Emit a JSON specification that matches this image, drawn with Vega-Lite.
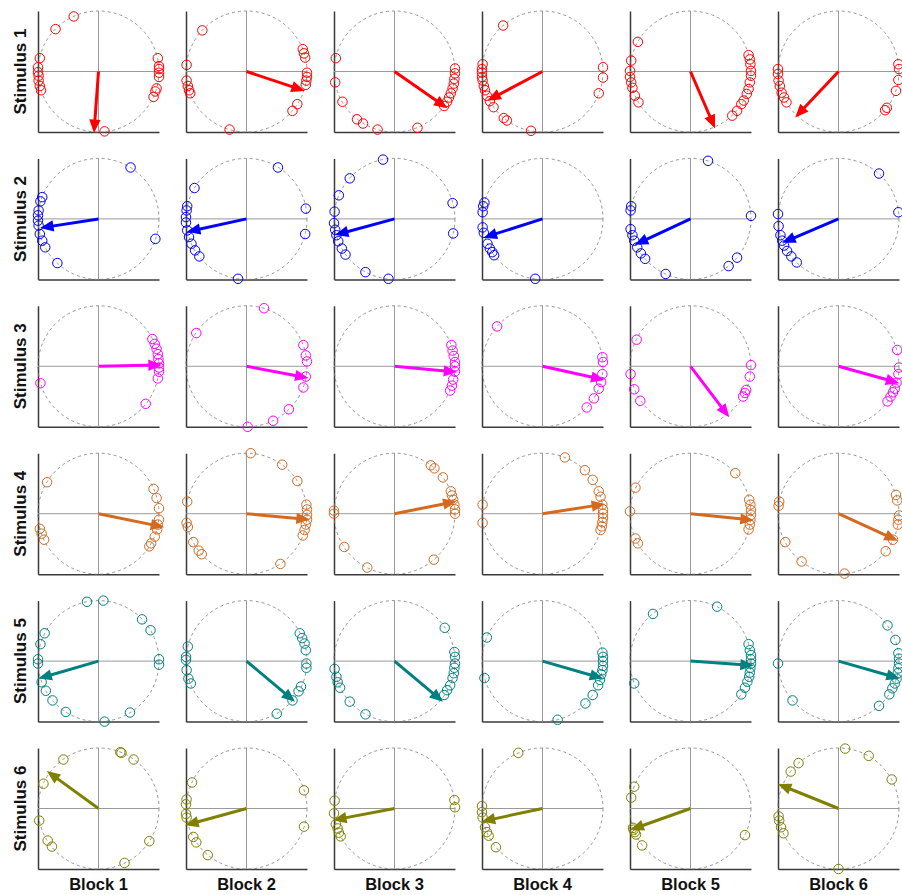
{
"$schema": "https://vega.github.io/schema/vega-lite/v6.json",
"padding": {"left": 11, "top": 9, "right": 0, "bottom": 0},
"background": "white",
"bounds": "flush",
"data": {"values": [
{"s":1,"b":1,"k":"o","x":-0.41,"y":0.91},{"s":1,"b":1,"k":"o","x":-0.71,"y":0.70},{"s":1,"b":1,"k":"o","x":-0.97,"y":0.22},{"s":1,"b":1,"k":"o","x":-1.0,"y":0.07},{"s":1,"b":1,"k":"o","x":-1.0,"y":-0.01},{"s":1,"b":1,"k":"o","x":-0.99,"y":-0.07},{"s":1,"b":1,"k":"o","x":-0.99,"y":-0.15},{"s":1,"b":1,"k":"o","x":-0.97,"y":-0.24},{"s":1,"b":1,"k":"o","x":-0.95,"y":-0.31},{"s":1,"b":1,"k":"o","x":0.98,"y":0.22},{"s":1,"b":1,"k":"o","x":1.0,"y":0.09},{"s":1,"b":1,"k":"o","x":1.0,"y":0.04},{"s":1,"b":1,"k":"o","x":1.0,"y":-0.02},{"s":1,"b":1,"k":"o","x":1.0,"y":-0.09},{"s":1,"b":1,"k":"o","x":0.96,"y":-0.28},{"s":1,"b":1,"k":"o","x":0.94,"y":-0.33},{"s":1,"b":1,"k":"o","x":0.91,"y":-0.42},{"s":1,"b":1,"k":"o","x":0.10,"y":-0.99},
{"s":1,"b":1,"k":"m","x":-0.07,"y":-0.95,"dir":-94},
{"s":1,"b":2,"k":"o","x":-0.73,"y":0.68},{"s":1,"b":2,"k":"o","x":-0.99,"y":0.11},{"s":1,"b":2,"k":"o","x":-0.99,"y":-0.15},{"s":1,"b":2,"k":"o","x":-0.97,"y":-0.24},{"s":1,"b":2,"k":"o","x":-0.95,"y":-0.31},{"s":1,"b":2,"k":"o","x":-0.93,"y":-0.36},{"s":1,"b":2,"k":"o","x":-0.28,"y":-0.96},{"s":1,"b":2,"k":"o","x":0.93,"y":0.37},{"s":1,"b":2,"k":"o","x":0.95,"y":0.30},{"s":1,"b":2,"k":"o","x":0.97,"y":0.23},{"s":1,"b":2,"k":"o","x":1.0,"y":-0.02},{"s":1,"b":2,"k":"o","x":1.0,"y":-0.09},{"s":1,"b":2,"k":"o","x":0.99,"y":-0.15},{"s":1,"b":2,"k":"o","x":0.98,"y":-0.22},{"s":1,"b":2,"k":"o","x":0.84,"y":-0.54},{"s":1,"b":2,"k":"o","x":0.76,"y":-0.65},
{"s":1,"b":2,"k":"m","x":0.90,"y":-0.30,"dir":-18.6},
{"s":1,"b":3,"k":"o","x":-0.97,"y":0.22},{"s":1,"b":3,"k":"o","x":-0.98,"y":-0.18},{"s":1,"b":3,"k":"o","x":-0.86,"y":-0.50},{"s":1,"b":3,"k":"o","x":-0.62,"y":-0.79},{"s":1,"b":3,"k":"o","x":-0.52,"y":-0.86},{"s":1,"b":3,"k":"o","x":-0.28,"y":-0.96},{"s":1,"b":3,"k":"o","x":0.38,"y":-0.93},{"s":1,"b":3,"k":"o","x":0.82,"y":-0.57},{"s":1,"b":3,"k":"o","x":1.0,"y":0.05},{"s":1,"b":3,"k":"o","x":1.0,"y":-0.03},{"s":1,"b":3,"k":"o","x":0.99,"y":-0.12},{"s":1,"b":3,"k":"o","x":0.98,"y":-0.2},{"s":1,"b":3,"k":"o","x":0.96,"y":-0.28},{"s":1,"b":3,"k":"o","x":0.93,"y":-0.36},{"s":1,"b":3,"k":"o","x":0.90,"y":-0.43},{"s":1,"b":3,"k":"o","x":0.87,"y":-0.50},
{"s":1,"b":3,"k":"m","x":0.82,"y":-0.57,"dir":-34.8},
{"s":1,"b":4,"k":"o","x":-0.65,"y":0.76},{"s":1,"b":4,"k":"o","x":-0.99,"y":0.12},{"s":1,"b":4,"k":"o","x":-1.0,"y":0.04},{"s":1,"b":4,"k":"o","x":-1.0,"y":-0.02},{"s":1,"b":4,"k":"o","x":-1.0,"y":-0.09},{"s":1,"b":4,"k":"o","x":-0.99,"y":-0.15},{"s":1,"b":4,"k":"o","x":-0.97,"y":-0.24},{"s":1,"b":4,"k":"o","x":-0.95,"y":-0.31},{"s":1,"b":4,"k":"o","x":-0.92,"y":-0.40},{"s":1,"b":4,"k":"o","x":-0.87,"y":-0.49},{"s":1,"b":4,"k":"o","x":-0.81,"y":-0.59},{"s":1,"b":4,"k":"o","x":-0.64,"y":-0.77},{"s":1,"b":4,"k":"o","x":-0.59,"y":-0.81},{"s":1,"b":4,"k":"o","x":-0.19,"y":-0.98},{"s":1,"b":4,"k":"o","x":1.0,"y":0.07},{"s":1,"b":4,"k":"o","x":1.0,"y":-0.10},{"s":1,"b":4,"k":"o","x":0.93,"y":-0.36},
{"s":1,"b":4,"k":"m","x":-0.85,"y":-0.45,"dir":-152},
{"s":1,"b":5,"k":"o","x":-0.87,"y":0.49},{"s":1,"b":5,"k":"o","x":-0.98,"y":0.18},{"s":1,"b":5,"k":"o","x":-1.0,"y":0.01},{"s":1,"b":5,"k":"o","x":-1.0,"y":-0.09},{"s":1,"b":5,"k":"o","x":-0.98,"y":-0.18},{"s":1,"b":5,"k":"o","x":-0.96,"y":-0.27},{"s":1,"b":5,"k":"o","x":-0.92,"y":-0.40},{"s":1,"b":5,"k":"o","x":-0.86,"y":-0.51},{"s":1,"b":5,"k":"o","x":0.96,"y":0.27},{"s":1,"b":5,"k":"o","x":0.98,"y":0.20},{"s":1,"b":5,"k":"o","x":0.99,"y":0.12},{"s":1,"b":5,"k":"o","x":1.0,"y":0.01},{"s":1,"b":5,"k":"o","x":1.0,"y":-0.07},{"s":1,"b":5,"k":"o","x":0.98,"y":-0.18},{"s":1,"b":5,"k":"o","x":0.96,"y":-0.29},{"s":1,"b":5,"k":"o","x":0.93,"y":-0.37},{"s":1,"b":5,"k":"o","x":0.88,"y":-0.48},{"s":1,"b":5,"k":"o","x":0.84,"y":-0.54},{"s":1,"b":5,"k":"o","x":0.77,"y":-0.65},{"s":1,"b":5,"k":"o","x":0.69,"y":-0.73},
{"s":1,"b":5,"k":"m","x":0.38,"y":-0.88,"dir":-66.5},
{"s":1,"b":6,"k":"o","x":-1.0,"y":0.04},{"s":1,"b":6,"k":"o","x":-1.0,"y":-0.04},{"s":1,"b":6,"k":"o","x":-0.99,"y":-0.15},{"s":1,"b":6,"k":"o","x":-0.97,"y":-0.24},{"s":1,"b":6,"k":"o","x":-0.94,"y":-0.35},{"s":1,"b":6,"k":"o","x":-0.90,"y":-0.43},{"s":1,"b":6,"k":"o","x":-0.86,"y":-0.51},{"s":1,"b":6,"k":"o","x":0.99,"y":0.12},{"s":1,"b":6,"k":"o","x":1.0,"y":0.04},{"s":1,"b":6,"k":"o","x":0.99,"y":-0.14},{"s":1,"b":6,"k":"o","x":0.95,"y":-0.32},{"s":1,"b":6,"k":"o","x":0.80,"y":-0.60},{"s":1,"b":6,"k":"o","x":0.77,"y":-0.64},
{"s":1,"b":6,"k":"m","x":-0.67,"y":-0.71,"dir":-133},
{"s":2,"b":1,"k":"o","x":0.53,"y":0.85},{"s":2,"b":1,"k":"o","x":-0.93,"y":0.36},{"s":2,"b":1,"k":"o","x":-0.96,"y":0.29},{"s":2,"b":1,"k":"o","x":-0.99,"y":0.14},{"s":2,"b":1,"k":"o","x":-1.0,"y":0.06},{"s":2,"b":1,"k":"o","x":-1.0,"y":-0.03},{"s":2,"b":1,"k":"o","x":-0.99,"y":-0.11},{"s":2,"b":1,"k":"o","x":-0.97,"y":-0.25},{"s":2,"b":1,"k":"o","x":-0.93,"y":-0.36},{"s":2,"b":1,"k":"o","x":-0.88,"y":-0.47},{"s":2,"b":1,"k":"o","x":-0.68,"y":-0.73},{"s":2,"b":1,"k":"o","x":0.94,"y":-0.33},
{"s":2,"b":1,"k":"m","x":-0.90,"y":-0.14,"dir":-171},
{"s":2,"b":2,"k":"o","x":0.52,"y":0.85},{"s":2,"b":2,"k":"o","x":-0.86,"y":0.51},{"s":2,"b":2,"k":"o","x":-0.98,"y":0.21},{"s":2,"b":2,"k":"o","x":-0.99,"y":0.14},{"s":2,"b":2,"k":"o","x":-1.0,"y":0.03},{"s":2,"b":2,"k":"o","x":-1.0,"y":-0.06},{"s":2,"b":2,"k":"o","x":-0.98,"y":-0.19},{"s":2,"b":2,"k":"o","x":-0.95,"y":-0.30},{"s":2,"b":2,"k":"o","x":-0.91,"y":-0.41},{"s":2,"b":2,"k":"o","x":-0.85,"y":-0.52},{"s":2,"b":2,"k":"o","x":-0.78,"y":-0.62},{"s":2,"b":2,"k":"o","x":-0.14,"y":-0.99},{"s":2,"b":2,"k":"o","x":0.98,"y":0.17},{"s":2,"b":2,"k":"o","x":0.97,"y":-0.25},
{"s":2,"b":2,"k":"m","x":-0.92,"y":-0.20,"dir":-168},
{"s":2,"b":3,"k":"o","x":-0.19,"y":0.98},{"s":2,"b":3,"k":"o","x":-0.74,"y":0.67},{"s":2,"b":3,"k":"o","x":-0.92,"y":0.39},{"s":2,"b":3,"k":"o","x":-0.99,"y":0.12},{"s":2,"b":3,"k":"o","x":-1.0,"y":-0.07},{"s":2,"b":3,"k":"o","x":-0.98,"y":-0.18},{"s":2,"b":3,"k":"o","x":-0.96,"y":-0.27},{"s":2,"b":3,"k":"o","x":-0.93,"y":-0.37},{"s":2,"b":3,"k":"o","x":-0.87,"y":-0.49},{"s":2,"b":3,"k":"o","x":-0.81,"y":-0.59},{"s":2,"b":3,"k":"o","x":-0.48,"y":-0.88},{"s":2,"b":3,"k":"o","x":-0.10,"y":-0.99},{"s":2,"b":3,"k":"o","x":0.96,"y":0.26},{"s":2,"b":3,"k":"o","x":0.97,"y":-0.24},
{"s":2,"b":3,"k":"m","x":-0.92,"y":-0.25,"dir":-165},
{"s":2,"b":4,"k":"o","x":-0.96,"y":0.27},{"s":2,"b":4,"k":"o","x":-0.98,"y":0.21},{"s":2,"b":4,"k":"o","x":-0.99,"y":0.11},{"s":2,"b":4,"k":"o","x":-0.99,"y":-0.14},{"s":2,"b":4,"k":"o","x":-0.97,"y":-0.23},{"s":2,"b":4,"k":"o","x":-0.91,"y":-0.41},{"s":2,"b":4,"k":"o","x":-0.87,"y":-0.49},{"s":2,"b":4,"k":"o","x":-0.83,"y":-0.55},{"s":2,"b":4,"k":"o","x":-0.80,"y":-0.60},{"s":2,"b":4,"k":"o","x":-0.12,"y":-0.99},
{"s":2,"b":4,"k":"m","x":-0.91,"y":-0.29,"dir":-162.5},
{"s":2,"b":5,"k":"o","x":0.29,"y":0.96},{"s":2,"b":5,"k":"o","x":-0.98,"y":0.21},{"s":2,"b":5,"k":"o","x":-0.99,"y":0.14},{"s":2,"b":5,"k":"o","x":-0.99,"y":-0.17},{"s":2,"b":5,"k":"o","x":-0.96,"y":-0.27},{"s":2,"b":5,"k":"o","x":-0.93,"y":-0.36},{"s":2,"b":5,"k":"o","x":-0.88,"y":-0.47},{"s":2,"b":5,"k":"o","x":-0.82,"y":-0.57},{"s":2,"b":5,"k":"o","x":-0.75,"y":-0.66},{"s":2,"b":5,"k":"o","x":-0.41,"y":-0.91},{"s":2,"b":5,"k":"o","x":1.0,"y":0.05},{"s":2,"b":5,"k":"o","x":0.77,"y":-0.64},{"s":2,"b":5,"k":"o","x":0.63,"y":-0.78},
{"s":2,"b":5,"k":"m","x":-0.86,"y":-0.40,"dir":-155},
{"s":2,"b":6,"k":"o","x":0.67,"y":0.75},{"s":2,"b":6,"k":"o","x":-1.0,"y":0.08},{"s":2,"b":6,"k":"o","x":-0.99,"y":-0.12},{"s":2,"b":6,"k":"o","x":-0.96,"y":-0.27},{"s":2,"b":6,"k":"o","x":-0.93,"y":-0.36},{"s":2,"b":6,"k":"o","x":-0.90,"y":-0.44},{"s":2,"b":6,"k":"o","x":-0.85,"y":-0.53},{"s":2,"b":6,"k":"o","x":-0.78,"y":-0.62},{"s":2,"b":6,"k":"o","x":-0.69,"y":-0.72},{"s":2,"b":6,"k":"o","x":0.99,"y":0.11},
{"s":2,"b":6,"k":"m","x":-0.87,"y":-0.37,"dir":-157},
{"s":3,"b":1,"k":"o","x":0.89,"y":0.45},{"s":3,"b":1,"k":"o","x":0.93,"y":0.37},{"s":3,"b":1,"k":"o","x":0.96,"y":0.29},{"s":3,"b":1,"k":"o","x":0.98,"y":0.20},{"s":3,"b":1,"k":"o","x":0.99,"y":0.12},{"s":3,"b":1,"k":"o","x":1.0,"y":0.05},{"s":3,"b":1,"k":"o","x":1.0,"y":-0.02},{"s":3,"b":1,"k":"o","x":1.0,"y":-0.09},{"s":3,"b":1,"k":"o","x":0.98,"y":-0.20},{"s":3,"b":1,"k":"o","x":-0.96,"y":-0.28},{"s":3,"b":1,"k":"o","x":0.78,"y":-0.62},
{"s":3,"b":1,"k":"m","x":0.98,"y":0.02,"dir":1},
{"s":3,"b":2,"k":"o","x":0.29,"y":0.96},{"s":3,"b":2,"k":"o","x":-0.83,"y":0.55},{"s":3,"b":2,"k":"o","x":0.94,"y":0.35},{"s":3,"b":2,"k":"o","x":0.98,"y":0.18},{"s":3,"b":2,"k":"o","x":1.0,"y":0.08},{"s":3,"b":2,"k":"o","x":0.98,"y":-0.17},{"s":3,"b":2,"k":"o","x":0.94,"y":-0.35},{"s":3,"b":2,"k":"o","x":0.70,"y":-0.71},{"s":3,"b":2,"k":"o","x":0.44,"y":-0.90},{"s":3,"b":2,"k":"o","x":0.02,"y":-1.0},
{"s":3,"b":2,"k":"m","x":0.96,"y":-0.18,"dir":-10.4},
{"s":3,"b":3,"k":"o","x":0.94,"y":0.35},{"s":3,"b":3,"k":"o","x":0.96,"y":0.26},{"s":3,"b":3,"k":"o","x":0.98,"y":0.17},{"s":3,"b":3,"k":"o","x":1.0,"y":0.07},{"s":3,"b":3,"k":"o","x":1.0,"y":0.0},{"s":3,"b":3,"k":"o","x":1.0,"y":-0.09},{"s":3,"b":3,"k":"o","x":0.97,"y":-0.22},{"s":3,"b":3,"k":"o","x":0.95,"y":-0.32},{"s":3,"b":3,"k":"o","x":0.92,"y":-0.40},
{"s":3,"b":3,"k":"m","x":0.97,"y":-0.09,"dir":-5},
{"s":3,"b":4,"k":"o","x":-0.75,"y":0.66},{"s":3,"b":4,"k":"o","x":0.99,"y":0.15},{"s":3,"b":4,"k":"o","x":1.0,"y":0.07},{"s":3,"b":4,"k":"o","x":0.99,"y":-0.13},{"s":3,"b":4,"k":"o","x":0.97,"y":-0.26},{"s":3,"b":4,"k":"o","x":0.93,"y":-0.37},{"s":3,"b":4,"k":"o","x":0.85,"y":-0.53},{"s":3,"b":4,"k":"o","x":0.73,"y":-0.68},
{"s":3,"b":4,"k":"m","x":0.96,"y":-0.21,"dir":-12.7},
{"s":3,"b":5,"k":"o","x":-0.89,"y":0.44},{"s":3,"b":5,"k":"o","x":-0.99,"y":-0.13},{"s":3,"b":5,"k":"o","x":-0.93,"y":-0.38},{"s":3,"b":5,"k":"o","x":-0.83,"y":-0.57},{"s":3,"b":5,"k":"o","x":1.0,"y":0.02},{"s":3,"b":5,"k":"o","x":0.98,"y":-0.17},{"s":3,"b":5,"k":"o","x":0.92,"y":-0.39},{"s":3,"b":5,"k":"o","x":0.90,"y":-0.44},{"s":3,"b":5,"k":"o","x":0.87,"y":-0.50},
{"s":3,"b":5,"k":"m","x":0.60,"y":-0.79,"dir":-52.6},
{"s":3,"b":6,"k":"o","x":0.97,"y":0.27},{"s":3,"b":6,"k":"o","x":1.0,"y":-0.02},{"s":3,"b":6,"k":"o","x":0.99,"y":-0.13},{"s":3,"b":6,"k":"o","x":0.96,"y":-0.27},{"s":3,"b":6,"k":"o","x":0.93,"y":-0.37},{"s":3,"b":6,"k":"o","x":0.90,"y":-0.43},{"s":3,"b":6,"k":"o","x":0.86,"y":-0.50},{"s":3,"b":6,"k":"o","x":0.81,"y":-0.58},
{"s":3,"b":6,"k":"m","x":0.94,"y":-0.26,"dir":-15.7},
{"s":4,"b":1,"k":"o","x":-0.85,"y":0.52},{"s":4,"b":1,"k":"o","x":0.91,"y":0.41},{"s":4,"b":1,"k":"o","x":0.96,"y":0.26},{"s":4,"b":1,"k":"o","x":1.0,"y":0.09},{"s":4,"b":1,"k":"o","x":1.0,"y":-0.10},{"s":4,"b":1,"k":"o","x":0.98,"y":-0.18},{"s":4,"b":1,"k":"o","x":0.97,"y":-0.26},{"s":4,"b":1,"k":"o","x":0.93,"y":-0.38},{"s":4,"b":1,"k":"o","x":0.87,"y":-0.49},{"s":4,"b":1,"k":"o","x":0.84,"y":-0.54},{"s":4,"b":1,"k":"o","x":-0.97,"y":-0.25},{"s":4,"b":1,"k":"o","x":-0.94,"y":-0.33},{"s":4,"b":1,"k":"o","x":-0.90,"y":-0.43},
{"s":4,"b":1,"k":"m","x":1.02,"y":-0.21,"dir":-11.9},
{"s":4,"b":2,"k":"o","x":0.07,"y":1.0},{"s":4,"b":2,"k":"o","x":0.59,"y":0.81},{"s":4,"b":2,"k":"o","x":0.84,"y":0.54},{"s":4,"b":2,"k":"o","x":0.99,"y":0.15},{"s":4,"b":2,"k":"o","x":1.0,"y":0.07},{"s":4,"b":2,"k":"o","x":1.0,"y":-0.02},{"s":4,"b":2,"k":"o","x":1.0,"y":-0.10},{"s":4,"b":2,"k":"o","x":0.98,"y":-0.18},{"s":4,"b":2,"k":"o","x":0.96,"y":-0.27},{"s":4,"b":2,"k":"o","x":0.93,"y":-0.36},{"s":4,"b":2,"k":"o","x":-0.98,"y":0.20},{"s":4,"b":2,"k":"o","x":-0.99,"y":-0.15},{"s":4,"b":2,"k":"o","x":-0.97,"y":-0.22},{"s":4,"b":2,"k":"o","x":-0.88,"y":-0.47},{"s":4,"b":2,"k":"o","x":-0.79,"y":-0.61},{"s":4,"b":2,"k":"o","x":-0.74,"y":-0.67},{"s":4,"b":2,"k":"o","x":0.56,"y":-0.83},
{"s":4,"b":2,"k":"m","x":0.98,"y":-0.09,"dir":-5},
{"s":4,"b":3,"k":"o","x":0.60,"y":0.80},{"s":4,"b":3,"k":"o","x":0.66,"y":0.75},{"s":4,"b":3,"k":"o","x":0.80,"y":0.60},{"s":4,"b":3,"k":"o","x":0.93,"y":0.37},{"s":4,"b":3,"k":"o","x":0.95,"y":0.30},{"s":4,"b":3,"k":"o","x":0.97,"y":0.23},{"s":4,"b":3,"k":"o","x":0.99,"y":0.15},{"s":4,"b":3,"k":"o","x":1.0,"y":0.07},{"s":4,"b":3,"k":"o","x":1.0,"y":0.0},{"s":4,"b":3,"k":"o","x":-1.0,"y":0.05},{"s":4,"b":3,"k":"o","x":-1.0,"y":0.0},{"s":4,"b":3,"k":"o","x":-0.83,"y":-0.55},{"s":4,"b":3,"k":"o","x":-0.45,"y":-0.89},{"s":4,"b":3,"k":"o","x":0.65,"y":-0.76},
{"s":4,"b":3,"k":"m","x":0.96,"y":0.19,"dir":11},
{"s":4,"b":4,"k":"o","x":0.37,"y":0.93},{"s":4,"b":4,"k":"o","x":0.70,"y":0.72},{"s":4,"b":4,"k":"o","x":0.83,"y":0.56},{"s":4,"b":4,"k":"o","x":0.93,"y":0.37},{"s":4,"b":4,"k":"o","x":0.96,"y":0.28},{"s":4,"b":4,"k":"o","x":0.99,"y":0.15},{"s":4,"b":4,"k":"o","x":1.0,"y":0.07},{"s":4,"b":4,"k":"o","x":1.0,"y":0.0},{"s":4,"b":4,"k":"o","x":1.0,"y":-0.07},{"s":4,"b":4,"k":"o","x":0.99,"y":-0.14},{"s":4,"b":4,"k":"o","x":0.98,"y":-0.21},{"s":4,"b":4,"k":"o","x":0.96,"y":-0.27},{"s":4,"b":4,"k":"o","x":-0.99,"y":0.15},{"s":4,"b":4,"k":"o","x":-0.99,"y":-0.15},
{"s":4,"b":4,"k":"m","x":0.97,"y":0.15,"dir":8.8},
{"s":4,"b":5,"k":"o","x":0.74,"y":0.67},{"s":4,"b":5,"k":"o","x":-0.91,"y":0.43},{"s":4,"b":5,"k":"o","x":-1.0,"y":0.04},{"s":4,"b":5,"k":"o","x":-0.91,"y":-0.41},{"s":4,"b":5,"k":"o","x":-0.87,"y":-0.49},{"s":4,"b":5,"k":"o","x":0.97,"y":0.23},{"s":4,"b":5,"k":"o","x":0.99,"y":0.15},{"s":4,"b":5,"k":"o","x":1.0,"y":0.06},{"s":4,"b":5,"k":"o","x":1.0,"y":-0.02},{"s":4,"b":5,"k":"o","x":0.99,"y":-0.10},{"s":4,"b":5,"k":"o","x":0.98,"y":-0.18},{"s":4,"b":5,"k":"o","x":0.96,"y":-0.26},
{"s":4,"b":5,"k":"m","x":0.98,"y":-0.10,"dir":-5.8},
{"s":4,"b":6,"k":"o","x":-0.98,"y":0.20},{"s":4,"b":6,"k":"o","x":-0.99,"y":0.13},{"s":4,"b":6,"k":"o","x":-0.88,"y":-0.47},{"s":4,"b":6,"k":"o","x":-0.61,"y":-0.79},{"s":4,"b":6,"k":"o","x":0.10,"y":-0.99},{"s":4,"b":6,"k":"o","x":0.95,"y":0.31},{"s":4,"b":6,"k":"o","x":0.97,"y":0.22},{"s":4,"b":6,"k":"o","x":1.0,"y":-0.03},{"s":4,"b":6,"k":"o","x":0.99,"y":-0.10},{"s":4,"b":6,"k":"o","x":0.98,"y":-0.18},{"s":4,"b":6,"k":"o","x":0.90,"y":-0.43},{"s":4,"b":6,"k":"o","x":0.78,"y":-0.62},
{"s":4,"b":6,"k":"m","x":0.92,"y":-0.42,"dir":-24.5},
{"s":5,"b":1,"k":"o","x":-0.19,"y":0.98},{"s":5,"b":1,"k":"o","x":0.08,"y":1.0},{"s":5,"b":1,"k":"o","x":0.72,"y":0.69},{"s":5,"b":1,"k":"o","x":0.86,"y":0.51},{"s":5,"b":1,"k":"o","x":1.0,"y":0.03},{"s":5,"b":1,"k":"o","x":1.0,"y":-0.06},{"s":5,"b":1,"k":"o","x":-0.89,"y":0.46},{"s":5,"b":1,"k":"o","x":-0.96,"y":0.28},{"s":5,"b":1,"k":"o","x":-1.0,"y":0.03},{"s":5,"b":1,"k":"o","x":-1.0,"y":-0.04},{"s":5,"b":1,"k":"o","x":-0.94,"y":-0.35},{"s":5,"b":1,"k":"o","x":-0.87,"y":-0.49},{"s":5,"b":1,"k":"o","x":-0.76,"y":-0.65},{"s":5,"b":1,"k":"o","x":-0.54,"y":-0.84},{"s":5,"b":1,"k":"o","x":0.10,"y":-1.0},{"s":5,"b":1,"k":"o","x":0.52,"y":-0.85},
{"s":5,"b":1,"k":"m","x":-0.93,"y":-0.27,"dir":-164},
{"s":5,"b":2,"k":"o","x":-0.97,"y":0.24},{"s":5,"b":2,"k":"o","x":-1.0,"y":0.07},{"s":5,"b":2,"k":"o","x":-1.0,"y":0.02},{"s":5,"b":2,"k":"o","x":-0.99,"y":-0.15},{"s":5,"b":2,"k":"o","x":-0.96,"y":-0.29},{"s":5,"b":2,"k":"o","x":-0.92,"y":-0.37},{"s":5,"b":2,"k":"o","x":0.88,"y":0.46},{"s":5,"b":2,"k":"o","x":0.92,"y":0.38},{"s":5,"b":2,"k":"o","x":0.96,"y":0.29},{"s":5,"b":2,"k":"o","x":0.98,"y":0.18},{"s":5,"b":2,"k":"o","x":0.99,"y":-0.04},{"s":5,"b":2,"k":"o","x":0.99,"y":-0.11},{"s":5,"b":2,"k":"o","x":0.90,"y":-0.42},{"s":5,"b":2,"k":"o","x":0.86,"y":-0.50},{"s":5,"b":2,"k":"o","x":0.76,"y":-0.65},{"s":5,"b":2,"k":"o","x":0.50,"y":-0.87},
{"s":5,"b":2,"k":"m","x":0.75,"y":-0.63,"dir":-40},
{"s":5,"b":3,"k":"o","x":0.83,"y":0.55},{"s":5,"b":3,"k":"o","x":0.99,"y":0.15},{"s":5,"b":3,"k":"o","x":1.0,"y":0.07},{"s":5,"b":3,"k":"o","x":1.0,"y":-0.04},{"s":5,"b":3,"k":"o","x":0.99,"y":-0.11},{"s":5,"b":3,"k":"o","x":0.98,"y":-0.20},{"s":5,"b":3,"k":"o","x":0.96,"y":-0.28},{"s":5,"b":3,"k":"o","x":0.92,"y":-0.40},{"s":5,"b":3,"k":"o","x":0.87,"y":-0.48},{"s":5,"b":3,"k":"o","x":0.82,"y":-0.56},{"s":5,"b":3,"k":"o","x":-0.99,"y":-0.13},{"s":5,"b":3,"k":"o","x":-0.96,"y":-0.26},{"s":5,"b":3,"k":"o","x":-0.94,"y":-0.35},{"s":5,"b":3,"k":"o","x":-0.90,"y":-0.44},{"s":5,"b":3,"k":"o","x":-0.74,"y":-0.67},{"s":5,"b":3,"k":"o","x":-0.48,"y":-0.88},
{"s":5,"b":3,"k":"m","x":0.75,"y":-0.63,"dir":-40},
{"s":5,"b":4,"k":"o","x":-0.92,"y":0.39},{"s":5,"b":4,"k":"o","x":-0.96,"y":-0.28},{"s":5,"b":4,"k":"o","x":0.25,"y":-0.97},{"s":5,"b":4,"k":"o","x":0.99,"y":0.14},{"s":5,"b":4,"k":"o","x":1.0,"y":0.07},{"s":5,"b":4,"k":"o","x":1.0,"y":0.0},{"s":5,"b":4,"k":"o","x":1.0,"y":-0.08},{"s":5,"b":4,"k":"o","x":0.99,"y":-0.15},{"s":5,"b":4,"k":"o","x":0.97,"y":-0.22},{"s":5,"b":4,"k":"o","x":0.95,"y":-0.31},{"s":5,"b":4,"k":"o","x":0.92,"y":-0.40},{"s":5,"b":4,"k":"o","x":0.83,"y":-0.56},{"s":5,"b":4,"k":"o","x":0.71,"y":-0.70},
{"s":5,"b":4,"k":"m","x":0.94,"y":-0.27,"dir":-16},
{"s":5,"b":5,"k":"o","x":-0.62,"y":0.78},{"s":5,"b":5,"k":"o","x":0.44,"y":0.90},{"s":5,"b":5,"k":"o","x":0.96,"y":0.28},{"s":5,"b":5,"k":"o","x":0.98,"y":0.18},{"s":5,"b":5,"k":"o","x":1.0,"y":0.10},{"s":5,"b":5,"k":"o","x":1.0,"y":0.03},{"s":5,"b":5,"k":"o","x":1.0,"y":-0.04},{"s":5,"b":5,"k":"o","x":0.99,"y":-0.11},{"s":5,"b":5,"k":"o","x":0.98,"y":-0.19},{"s":5,"b":5,"k":"o","x":0.97,"y":-0.26},{"s":5,"b":5,"k":"o","x":0.94,"y":-0.34},{"s":5,"b":5,"k":"o","x":0.90,"y":-0.44},{"s":5,"b":5,"k":"o","x":0.84,"y":-0.55},{"s":5,"b":5,"k":"o","x":-0.93,"y":-0.37},
{"s":5,"b":5,"k":"m","x":0.98,"y":-0.07,"dir":-4},
{"s":5,"b":6,"k":"o","x":0.81,"y":0.59},{"s":5,"b":6,"k":"o","x":0.94,"y":0.35},{"s":5,"b":6,"k":"o","x":0.99,"y":0.13},{"s":5,"b":6,"k":"o","x":1.0,"y":0.04},{"s":5,"b":6,"k":"o","x":1.0,"y":-0.04},{"s":5,"b":6,"k":"o","x":0.99,"y":-0.12},{"s":5,"b":6,"k":"o","x":0.98,"y":-0.20},{"s":5,"b":6,"k":"o","x":0.96,"y":-0.29},{"s":5,"b":6,"k":"o","x":0.93,"y":-0.37},{"s":5,"b":6,"k":"o","x":0.89,"y":-0.45},{"s":5,"b":6,"k":"o","x":0.84,"y":-0.55},{"s":5,"b":6,"k":"o","x":0.67,"y":-0.74},{"s":5,"b":6,"k":"o","x":-1.0,"y":-0.04},{"s":5,"b":6,"k":"o","x":-0.76,"y":-0.65},
{"s":5,"b":6,"k":"m","x":0.95,"y":-0.27,"dir":-15.6},
{"s":6,"b":1,"k":"o","x":-0.58,"y":0.81},{"s":6,"b":1,"k":"o","x":-0.91,"y":0.41},{"s":6,"b":1,"k":"o","x":0.36,"y":0.93},{"s":6,"b":1,"k":"o","x":0.38,"y":0.92},{"s":6,"b":1,"k":"o","x":0.58,"y":0.81},{"s":6,"b":1,"k":"o","x":-0.98,"y":-0.20},{"s":6,"b":1,"k":"o","x":-0.84,"y":-0.53},{"s":6,"b":1,"k":"o","x":-0.77,"y":-0.63},{"s":6,"b":1,"k":"o","x":0.84,"y":-0.54},{"s":6,"b":1,"k":"o","x":0.43,"y":-0.90},
{"s":6,"b":1,"k":"m","x":-0.80,"y":0.58,"dir":144},
{"s":6,"b":2,"k":"o","x":-0.90,"y":0.43},{"s":6,"b":2,"k":"o","x":-0.99,"y":0.15},{"s":6,"b":2,"k":"o","x":-1.0,"y":0.07},{"s":6,"b":2,"k":"o","x":-1.0,"y":-0.09},{"s":6,"b":2,"k":"o","x":-0.99,"y":-0.15},{"s":6,"b":2,"k":"o","x":-0.88,"y":-0.47},{"s":6,"b":2,"k":"o","x":-0.83,"y":-0.56},{"s":6,"b":2,"k":"o","x":-0.64,"y":-0.77},{"s":6,"b":2,"k":"o","x":0.95,"y":0.30},{"s":6,"b":2,"k":"o","x":0.95,"y":-0.30},
{"s":6,"b":2,"k":"m","x":-0.95,"y":-0.26,"dir":-165},
{"s":6,"b":3,"k":"o","x":-0.99,"y":0.13},{"s":6,"b":3,"k":"o","x":-1.0,"y":-0.08},{"s":6,"b":3,"k":"o","x":-0.97,"y":-0.26},{"s":6,"b":3,"k":"o","x":-0.94,"y":-0.33},{"s":6,"b":3,"k":"o","x":-0.92,"y":-0.40},{"s":6,"b":3,"k":"o","x":-0.89,"y":-0.46},{"s":6,"b":3,"k":"o","x":0.99,"y":0.14},{"s":6,"b":3,"k":"o","x":1.0,"y":0.02},
{"s":6,"b":3,"k":"m","x":-0.95,"y":-0.18,"dir":-169},
{"s":6,"b":4,"k":"o","x":-0.40,"y":0.92},{"s":6,"b":4,"k":"o","x":-1.0,"y":0.04},{"s":6,"b":4,"k":"o","x":-1.0,"y":-0.06},{"s":6,"b":4,"k":"o","x":-0.99,"y":-0.15},{"s":6,"b":4,"k":"o","x":-0.95,"y":-0.31},{"s":6,"b":4,"k":"o","x":-0.92,"y":-0.39},{"s":6,"b":4,"k":"o","x":-0.89,"y":-0.45},{"s":6,"b":4,"k":"o","x":-0.77,"y":-0.64},
{"s":6,"b":4,"k":"m","x":-0.94,"y":-0.20,"dir":-168},
{"s":6,"b":5,"k":"o","x":-0.93,"y":0.36},{"s":6,"b":5,"k":"o","x":-0.98,"y":0.18},{"s":6,"b":5,"k":"o","x":-0.95,"y":-0.32},{"s":6,"b":5,"k":"o","x":-0.94,"y":-0.35},{"s":6,"b":5,"k":"o","x":-0.92,"y":-0.39},{"s":6,"b":5,"k":"o","x":-0.90,"y":-0.43},{"s":6,"b":5,"k":"o","x":-0.80,"y":-0.61},{"s":6,"b":5,"k":"o","x":0.90,"y":-0.44},
{"s":6,"b":5,"k":"m","x":-0.93,"y":-0.33,"dir":-160},
{"s":6,"b":6,"k":"o","x":0.11,"y":0.99},{"s":6,"b":6,"k":"o","x":0.50,"y":0.87},{"s":6,"b":6,"k":"o","x":0.88,"y":0.48},{"s":6,"b":6,"k":"o","x":-0.66,"y":0.75},{"s":6,"b":6,"k":"o","x":-0.79,"y":0.61},{"s":6,"b":6,"k":"o","x":-0.99,"y":-0.13},{"s":6,"b":6,"k":"o","x":-0.98,"y":-0.20},{"s":6,"b":6,"k":"o","x":-0.95,"y":-0.31},{"s":6,"b":6,"k":"o","x":-0.91,"y":-0.41},{"s":6,"b":6,"k":"o","x":0.0,"y":-1.0},
{"s":6,"b":6,"k":"m","x":-0.94,"y":0.38,"dir":158}
]},
"facet": {
  "row": {"field": "s", "type": "ordinal", "title": null,
    "header": {"labelExpr": "'Stimulus ' + datum.value", "labelOrient": "left", "labelAngle": -90, "labelFontSize": 17, "labelFontWeight": "bold", "labelFont": "Liberation Sans", "labelColor": "#111111", "labelPadding": 0}},
  "column": {"field": "b", "type": "ordinal", "title": null,
    "header": {"labelExpr": "'Block ' + datum.value", "labelOrient": "bottom", "labelFontSize": 16.5, "labelFontWeight": "bold", "labelFont": "Liberation Sans", "labelColor": "#111111", "labelPadding": 8}}
},
"spacing": {"row": 26.4, "column": 27},
"resolve": {"axis": {"x": "independent", "y": "independent"}},
"spec": {
  "width": 121,
  "height": 121,
  "layer": [
    {"transform": [{"filter": "datum.k == 'm'"}],
     "mark": {"type": "rule", "color": "#9a9a9a", "strokeWidth": 1},
     "encoding": {"x": {"datum": 0, "type": "quantitative", "title": null, "scale": {"domain": [-1, 1], "nice": false, "zero": false}}}},
    {"transform": [{"filter": "datum.k == 'm'"}],
     "mark": {"type": "rule", "color": "#9a9a9a", "strokeWidth": 1},
     "encoding": {"y": {"datum": 0, "type": "quantitative", "title": null, "scale": {"domain": [-1, 1], "nice": false, "zero": false}}}},
    {"transform": [{"filter": "datum.k == 'm'"}],
     "mark": {"type": "point", "shape": "circle", "filled": false, "size": 14641, "stroke": "#7a7a7a", "strokeWidth": 0.8, "strokeDash": [3, 3], "opacity": 1},
     "encoding": {"x": {"datum": 0, "type": "quantitative", "title": null}, "y": {"datum": 0, "type": "quantitative", "title": null}}},
    {"transform": [{"filter": "datum.k == 'o'"}],
     "mark": {"type": "point", "shape": "circle", "filled": false, "size": 90, "strokeWidth": 1, "opacity": 1},
     "encoding": {
       "x": {"field": "x", "type": "quantitative", "title": null},
       "y": {"field": "y", "type": "quantitative", "title": null},
       "color": {"field": "s", "type": "nominal", "legend": null, "scale": {"domain": [1, 2, 3, 4, 5, 6], "range": ["#ff0000", "#0000ff", "#ff00ff", "#d5691f", "#008080", "#808000"]}}}},
    {"transform": [{"filter": "datum.k == 'm'"}],
     "mark": {"type": "rule", "strokeWidth": 3, "strokeCap": "butt"},
     "encoding": {
       "x": {"field": "x", "type": "quantitative", "title": null},
       "y": {"field": "y", "type": "quantitative", "title": null},
       "x2": {"datum": 0},
       "y2": {"datum": 0},
       "color": {"field": "s", "type": "nominal", "legend": null}}},
    {"transform": [{"filter": "datum.k == 'm'"}],
     "mark": {"type": "point", "shape": "M0,-0.3L0.42,0.7L-0.42,0.7Z", "filled": true, "size": 729, "opacity": 1, "strokeWidth": 0},
     "encoding": {
       "x": {"field": "x", "type": "quantitative", "title": null},
       "y": {"field": "y", "type": "quantitative", "title": null},
       "angle": {"field": "dir", "type": "quantitative", "legend": null, "scale": {"domain": [-180, 180], "range": [270, -90]}},
       "color": {"field": "s", "type": "nominal", "legend": null}}}
  ]
},
"config": {
  "view": {"stroke": null},
  "axis": {"domain": true, "domainColor": "#3a3a3a", "domainWidth": 1.5, "ticks": false, "labels": false, "grid": false, "minExtent": 0, "maxExtent": 0, "offset": 0},
  "font": "Liberation Sans"
}
}
